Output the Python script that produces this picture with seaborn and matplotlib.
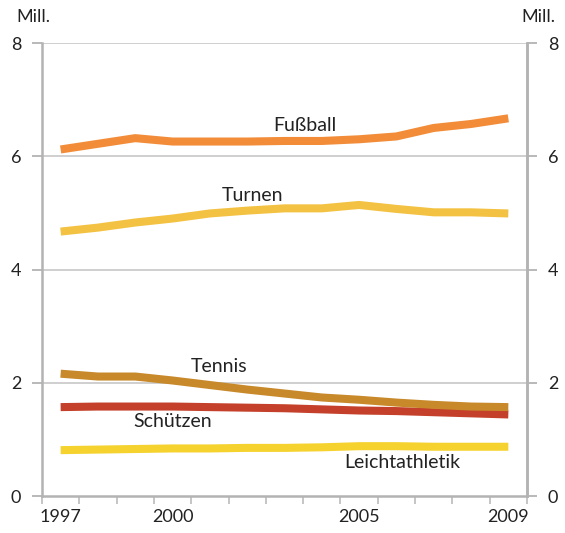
import matplotlib
matplotlib.use("Agg")
import matplotlib.pyplot as plt
import numpy as np
import pandas as pd
import seaborn as sns

years = list(range(1997, 2010))
fussball = [6.12, 6.22, 6.32, 6.26, 6.26, 6.26, 6.27, 6.27, 6.30, 6.35, 6.50, 6.57, 6.67]
turnen = [4.67, 4.74, 4.83, 4.90, 4.99, 5.04, 5.08, 5.08, 5.14, 5.07, 5.01, 5.01, 4.99]
tennis = [2.16, 2.11, 2.11, 2.04, 1.96, 1.88, 1.81, 1.74, 1.70, 1.65, 1.61, 1.58, 1.57]
schuetzen = [1.57, 1.58, 1.58, 1.58, 1.57, 1.56, 1.55, 1.53, 1.51, 1.50, 1.48, 1.46, 1.44]
leichtathletik = [0.81, 0.82, 0.83, 0.84, 0.84, 0.85, 0.85, 0.86, 0.88, 0.88, 0.87, 0.87, 0.87]

sports = ["Fußball", "Turnen", "Tennis", "Schützen", "Leichtathletik"]
series = [fussball, turnen, tennis, schuetzen, leichtathletik]
colors = ["#F28C38", "#F4C242", "#C8892A", "#C4402A", "#F5D22E"]
y_ticks = [0, 2, 4, 6, 8]
x_labels = [1997, 2000, 2005, 2009]

df = pd.DataFrame(
    [(y, s, v) for s, vals in zip(sports, series) for y, v in zip(years, vals)],
    columns=["Jahr", "Sportart", "Mitglieder"],
)

sns.set_theme(style="white")
plt.rcParams["font.family"] = ["Lato", "DejaVu Sans"]
text_color = "#222222"
axis_gray = "#B3B3B3"
grid_gray = "#CCCCCC"

fig = plt.figure(figsize=(5.65, 5.33), dpi=100)
ax = fig.add_axes([0.0743, 0.0694, 0.8584, 0.8499])

# draw lines back to front so Tennis sits over Schützen
order = ["Leichtathletik", "Schützen", "Tennis", "Turnen", "Fußball"]
palette = dict(zip(sports, colors))
for name in order:
    sns.lineplot(data=df[df["Sportart"] == name], x="Jahr", y="Mitglieder",
                 color=palette[name], linewidth=5.8, ax=ax, legend=False,
                 solid_capstyle="butt", solid_joinstyle="round")

ax.set_xlim(years[0] - 0.5, years[-1] + 0.5)
ax.set_ylim(0, 8)
ax.set_xlabel("")
ax.set_ylabel("")

# horizontal grid
for yv in y_ticks[1:]:
    ax.axhline(yv, color=grid_gray, linewidth=1.3, zorder=0)

ax.spines["top"].set_visible(False)
for side in ["left", "right", "bottom"]:
    ax.spines[side].set_color(axis_gray)
    ax.spines[side].set_linewidth(1.8)

ax.set_yticks(y_ticks)
ax.set_yticklabels([str(v) for v in y_ticks])
ax.tick_params(axis="y", which="major", left=True, length=7, width=1.3,
               color=axis_gray, labelsize=13, labelcolor=text_color, pad=8)

ax.set_xticks(x_labels)
ax.set_xticklabels([str(v) for v in x_labels])
ax.set_xticks([y - 0.5 for y in years] + [years[-1] + 0.5], minor=True)
ax.tick_params(axis="x", which="major", length=0, labelsize=13,
               labelcolor=text_color, pad=9)
ax.tick_params(axis="x", which="minor", bottom=True, length=6, width=1.2,
               color="#BBBBBB")

ax2 = ax.twinx()
ax2.set_ylim(0, 8)
ax2.set_yticks(y_ticks)
ax2.set_yticklabels([str(v) for v in y_ticks])
for side in ["top", "left", "bottom"]:
    ax2.spines[side].set_visible(False)
ax2.spines["right"].set_color(axis_gray)
ax2.spines["right"].set_linewidth(1.8)
ax2.tick_params(axis="y", right=True, length=7, width=1.3, color=axis_gray,
                labelsize=13, labelcolor=text_color, pad=8)
ax2.grid(False)

fig.text(16 / 565, 1 - 17 / 533, "Mill.", fontsize=13, color=text_color,
         ha="left", va="center")
fig.text(555 / 565, 1 - 17 / 533, "Mill.", fontsize=13, color=text_color,
         ha="right", va="center")

# series labels
label_pos = {
    "Fußball": (2003.55, 6.55),
    "Turnen": (2002.13, 5.3),
    "Tennis": (2001.25, 2.28),
    "Schützen": (1999.99, 1.32),
    "Leichtathletik": (2006.15, 0.6),
}
for name, (x, y) in label_pos.items():
    ax.text(x, y, name, fontsize=14, color=text_color, ha="center", va="center")

fig.savefig("out.png", dpi=100)
